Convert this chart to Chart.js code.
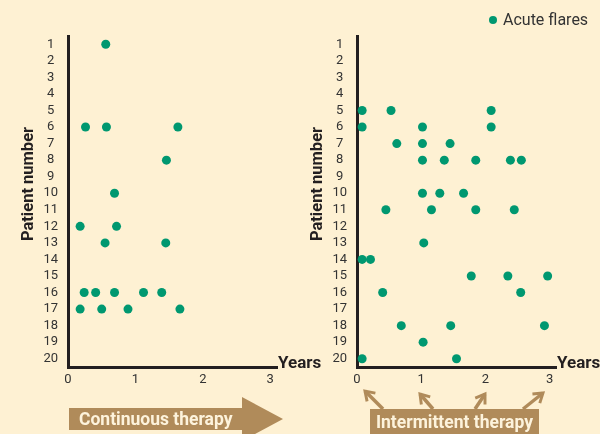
<!DOCTYPE html>
<html>
<head>
<meta charset="utf-8">
<script src="https://cdn.jsdelivr.net/npm/chart.js@4"></script>
<style>
body { margin: 0; background: #fef1d3; }
#wrap { position: relative; width: 600px; height: 434px; overflow: hidden; background: #fef1d3; }
canvas { position: absolute; top: 0; }
#left { left: 0; }
#right { left: 300px; }
svg { position: absolute; left: 0; top: 0; pointer-events: none; font-family: Roboto, sans-serif; }
</style>
</head>
<body>
<div id="wrap">
    <canvas id="left" width="300" height="434"></canvas>
    <canvas id="right" width="300" height="434"></canvas>
    <svg width="600" height="434">
        <defs>
            <marker id="head" viewBox="0 0 10 10" refX="7" refY="5" markerWidth="4.2" markerHeight="4.2" orient="auto">
                <polyline points="1,1 7,5 1,9" fill="none" stroke="#b08b5a" stroke-width="2"/>
            </marker>
        </defs>
        <!-- axis titles -->
        <text transform="translate(33,184) rotate(-90)" text-anchor="middle" font-size="16.5" font-weight="bold" fill="#231f20">Patient number</text>
        <text transform="translate(322,184) rotate(-90)" text-anchor="middle" font-size="16.5" font-weight="bold" fill="#231f20">Patient number</text>
        <text x="278" y="368" font-size="17" font-weight="bold" fill="#231f20">Years</text>
        <text x="557" y="368" font-size="17" font-weight="bold" fill="#231f20">Years</text>
        <!-- legend -->
        <circle cx="493" cy="20" r="4" fill="#009870"/>
        <text x="503" y="25" font-size="16" fill="#333">Acute flares</text>
        <!-- continuous therapy arrow -->
        <polygon points="69,408 242,408 242,397 283,419 242,441 242,430 69,430" fill="#b08b5a"/>
        <text x="79" y="425" font-size="17.5" font-weight="bold" fill="#fdf3dc">Continuous therapy</text>
        <!-- intermittent therapy -->
        <rect x="370" y="409" width="169" height="25" fill="#b08b5a"/>
        <text x="454.5" y="428" text-anchor="middle" font-size="17.5" font-weight="bold" fill="#fdf3dc">Intermittent therapy</text>
        <g stroke="#b08b5a" stroke-width="3.5" marker-end="url(#head)">
            <line x1="383" y1="409" x2="365" y2="391"/>
            <line x1="433" y1="409" x2="420" y2="394"/>
            <line x1="475" y1="409" x2="485" y2="394"/>
            <line x1="523" y1="409" x2="543" y2="393"/>
        </g>
    </svg>
</div>
<script>
const dotColor = '#009870';
const axisColor = '#231f20';

const patientTicks = [1, 2, 3, 4, 5, 6, 7, 8, 9, 10, 11, 12, 13, 14, 15, 16, 17, 18, 19, 20];
const yearTicks = [0, 1, 2, 3];

// continuous therapy: one entry per flare (patient, years)
const continuousPatient = [1, 6, 6, 6, 8, 10, 12, 12, 13, 13, 16, 16, 16, 16, 16, 17, 17, 17, 17];
const continuousYear    = [0.56, 0.26, 0.57, 1.63, 1.46, 0.69, 0.18, 0.72, 0.55, 1.45, 0.24, 0.41, 0.69, 1.12, 1.39, 0.18, 0.50, 0.89, 1.66];

// intermittent therapy
const intermittentPatient = [5, 5, 5, 6, 6, 6, 7, 7, 7, 8, 8, 8, 8, 8, 10, 10, 10, 11, 11, 11, 11, 13, 14, 14, 15, 15, 15, 16, 16, 18, 18, 18, 19, 20, 20];
const intermittentYear    = [0.08, 0.53, 2.09, 0.08, 1.02, 2.09, 0.62, 1.02, 1.45, 1.02, 1.36, 1.85, 2.39, 2.56, 1.02, 1.29, 1.66, 0.45, 1.16, 1.85, 2.45, 1.04, 0.08, 0.21, 1.78, 2.35, 2.97, 0.40, 2.55, 0.69, 1.46, 2.92, 1.03, 0.08, 1.55];

Chart.defaults.font.family = "Roboto, sans-serif";

function makeChart(id, patients, years, padLeft, padRight) {
    const points = patients.map((p, i) => ({ x: years[i], y: p }));
    return new Chart(document.getElementById(id), {
        type: 'scatter',
        data: {
            datasets: [{
                label: 'Acute flares',
                data: points,
                backgroundColor: dotColor,
                borderWidth: 0,
                pointRadius: 4.5,
                pointHoverRadius: 4.5,
                clip: false
            }]
        },
        options: {
            responsive: false,
            animation: false,
            devicePixelRatio: 1,
            events: [],
            layout: { padding: { left: padLeft, right: padRight, top: 36, bottom: 0 } },
            plugins: { legend: { display: false }, tooltip: { enabled: false } },
            scales: {
                x: {
                    type: 'linear', min: 0, max: 3.1,
                    grid: { display: false, drawTicks: false },
                    border: { color: axisColor, width: 3 },
                    ticks: { color: '#333', font: { size: 13 }, padding: 5 },
                    afterBuildTicks: s => { s.ticks = yearTicks.map(v => ({ value: v })); },
                    afterFit: s => { s.height = 67; }
                },
                y: {
                    type: 'linear', reverse: true, min: 0.5, max: 20.5,
                    grid: { display: false, drawTicks: false },
                    border: { color: axisColor, width: 3 },
                    ticks: { color: '#333', font: { size: 13 }, padding: 10, crossAlign: 'center', autoSkip: false },
                    afterBuildTicks: s => { s.ticks = patientTicks.map(v => ({ value: v })); },
                    afterFit: s => { s.width = 57; }
                }
            }
        }
    });
}

makeChart('left', continuousPatient, continuousYear, 11, 23);
makeChart('right', intermittentPatient, intermittentYear, 0, 44);
</script>
</body>
</html>
